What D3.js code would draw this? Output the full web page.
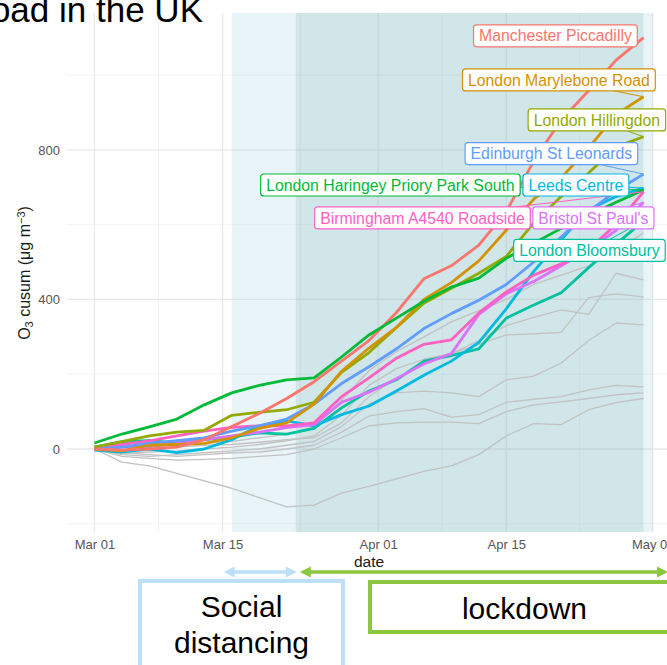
<!DOCTYPE html>
<html><head><meta charset="utf-8">
<script src="https://cdn.jsdelivr.net/npm/d3@7"></script>
<style>
html,body{margin:0;padding:0;background:#fff;overflow:hidden}
svg{display:block;font-family:"Liberation Sans",Arial,Helvetica,sans-serif}
</style>
</head><body>
<svg id="chart" width="667" height="665"></svg>
<script>
// ---------- data ----------
const dayOffsets = [0,3,6,9,12,15,18,21,24,27,30,33,36,39,42,45,48,51,54,57,60]; // days after 2020-03-01
const xTickLabels = ["Mar 01","Mar 15","Apr 01","Apr 15","May 01"];
const yTickValues = [0,400,800];

const siteNames = ["London Bloomsbury","Leeds Centre","Bristol St Paul's","Birmingham A4540 Roadside",
  "Edinburgh St Leonards","London Hillingdon","London Marylebone Road","Manchester Piccadilly",
  "London Haringey Priory Park South"];

const bloomsbury = [5,20,22,16,25,32,43,40,55,110,155,185,235,250,268,350,385,418,485,548,610];
const leeds      = [-3,-8,0,-10,0,25,62,75,62,92,115,155,197,235,285,375,475,560,640,675,698];
const bristol    = [0,5,8,15,25,35,45,57,65,125,152,188,228,255,360,415,448,490,532,585,660];
const birmingham = [0,12,22,35,48,58,62,62,70,140,190,243,280,292,364,420,465,495,535,600,688];
const edinburgh  = [0,5,15,22,30,48,62,80,120,175,220,268,322,362,398,440,500,567,635,690,735];
const hillingdon = [5,20,35,45,50,90,98,105,125,205,258,325,390,430,470,515,605,675,738,808,835];
const marylebone = [0,-5,10,12,15,30,55,70,120,208,270,325,400,445,503,585,668,725,805,895,942];
const manchester = [0,-3,0,5,25,60,95,135,180,235,290,365,455,490,545,635,770,880,958,1040,1100];
const haringey   = [16,40,59,80,118,150,170,185,190,246,305,350,395,433,457,510,550,590,625,660,693];

// other (unlabelled) sites
const other1 = [0,-5,5,10,15,20,30,40,60,130,210,260,300,340,370,400,440,465,490,530,578];
const other2 = [0,-12,-8,-5,0,5,12,22,35,90,170,215,240,255,290,330,352,372,360,470,452];
const other3 = [0,-8,0,5,10,12,18,25,30,70,140,190,225,255,280,305,308,312,405,415,407];
const other4 = [0,-15,-20,-15,-10,-5,0,10,20,60,120,150,155,150,140,185,195,230,290,337,332];
const other5 = [0,-10,-15,-20,-15,-10,-8,0,10,45,88,100,108,85,92,125,133,140,158,170,166];
const other6 = [0,-20,-25,-30,-28,-25,-20,-15,0,30,62,70,72,72,68,100,118,126,135,145,150];
const other7 = [0,-35,-45,-65,-85,-105,-130,-155,-150,-118,-100,-80,-60,-45,-15,35,68,65,105,124,135];

// label anchor points (label centre, in data units: day offset, value)
const labelDay   = [54.09,52.61,54.52,35.84,49.93,54.9,50.75,50.37,32.34];
const labelValue = [531,706,618,618,790,880,987,1105,706];

// ---------- styles ----------
const siteColours = ["#00C19F","#00B9E3","#DB72FB","#FF61C3","#619CFF","#93AA00","#D39200","#F8766D","#00BA38"];

// ---------- build ----------
const labelled = [bloomsbury,leeds,bristol,birmingham,edinburgh,hillingdon,marylebone,manchester,haringey];
const others = [other1,other2,other3,other4,other5,other6,other7];
const start = new Date(Date.UTC(2020,2,1));
const dateOf = d => d3.utcDay.offset(start, d);
const dayFrac = d => new Date(start.getTime() + d*86400000);

const svg = d3.select("#chart");
const x = d3.scaleUtc().domain([dayFrac(-3), dayFrac(63)]).range([67,671]);
const y = d3.scaleLinear().domain([-222,1166]).range([532,13]);
const pTop = 13, pBottom = 532, pLeft = 67, pRight = 671;

svg.append("rect").attr("width",667).attr("height",665).attr("fill","#fff");

// grid
const g = svg.append("g");
const majorX = [0,14,31,45,61].map(dateOf);
const minorX = [7,22.5,38,53].map(dayFrac);
const majorY = yTickValues;
const minorY = [-200,200,600,1000];
g.selectAll(".mnx").data(minorX).join("line").attr("x1",d=>x(d)).attr("x2",d=>x(d))
  .attr("y1",pTop).attr("y2",pBottom).attr("stroke","#eeeeee").attr("stroke-width",0.7);
g.selectAll(".mny").data(minorY).join("line").attr("y1",d=>y(d)).attr("y2",d=>y(d))
  .attr("x1",pLeft).attr("x2",pRight).attr("stroke","#eeeeee").attr("stroke-width",0.7);
g.selectAll(".mjx").data(majorX).join("line").attr("x1",d=>x(d)).attr("x2",d=>x(d))
  .attr("y1",pTop).attr("y2",pBottom).attr("stroke","#e8e8e8").attr("stroke-width",1.3);
g.selectAll(".mjy").data(majorY).join("line").attr("y1",d=>y(d)).attr("y2",d=>y(d))
  .attr("x1",pLeft).attr("x2",pRight).attr("stroke","#e8e8e8").attr("stroke-width",1.3);

// shaded periods
svg.append("rect").attr("x",x(dateOf(15))).attr("y",pTop)
  .attr("width",x(dateOf(61))-x(dateOf(15))).attr("height",pBottom-pTop)
  .attr("fill","#add8e6").attr("fill-opacity",0.27);
svg.append("rect").attr("x",x(dateOf(22))).attr("y",pTop)
  .attr("width",x(dateOf(60))-x(dateOf(22))).attr("height",pBottom-pTop)
  .attr("fill","#5f9ea0").attr("fill-opacity",0.17);

// lines
const line = d3.line().x((v,i)=>x(dateOf(dayOffsets[i]))).y(v=>y(v));
svg.append("g").selectAll("path").data(others).join("path")
  .attr("d",line).attr("fill","none").attr("stroke","#c2c2c2").attr("stroke-width",1.3)
  .attr("stroke-linejoin","round");
svg.append("g").selectAll("path").data(labelled).join("path")
  .attr("d",line).attr("fill","none").attr("stroke",(d,i)=>siteColours[i]).attr("stroke-width",2.8)
  .attr("stroke-linejoin","round");

// labels
const fs = 15.8, padX = 5.5, boxH = 22;
const segG = svg.append("g");
const labG = svg.append("g");
labelled.forEach((vals,i)=>{
  const cx = x(dayFrac(labelDay[i])), cy = y(labelValue[i]);
  const lg = labG.append("g");
  const box = lg.append("rect");
  const t = lg.append("text").attr("x",cx).attr("y",cy+fs*0.36).attr("text-anchor","middle")
    .attr("font-size",fs).attr("fill",siteColours[i]).text(siteNames[i]);
  const w = t.node().getComputedTextLength() + 2*padX;
  box.attr("x",cx-w/2).attr("y",cy-boxH/2).attr("width",w).attr("height",boxH).attr("rx",3)
    .attr("fill","#fff").attr("stroke",siteColours[i]).attr("stroke-width",1.2);
  const px = x(dateOf(dayOffsets[dayOffsets.length-1])), py = y(vals[vals.length-1]);
  const dx = px-cx, dy = py-cy;
  const tx = dx===0?Infinity:(w/2)/Math.abs(dx), ty = dy===0?Infinity:(boxH/2)/Math.abs(dy);
  const tt = Math.min(tx,ty);
  if (tt < 1) {
    const ex = cx+dx*tt, ey = cy+dy*tt;
    if (Math.hypot(px-ex,py-ey) > 7) {
      segG.append("line").attr("x1",ex).attr("y1",ey).attr("x2",px).attr("y2",py)
        .attr("stroke",siteColours[i]).attr("stroke-width",1);
    }
  }
});

// axes
const ya = svg.append("g").attr("transform",`translate(${pLeft},0)`)
  .call(d3.axisLeft(y).tickValues(yTickValues).tickSize(0).tickPadding(7));
ya.select(".domain").remove();
ya.selectAll("text").attr("font-size",13).attr("fill","#555").attr("font-family","Liberation Sans, Arial, sans-serif");

const xa = svg.append("g").attr("transform",`translate(0,${pBottom})`)
  .call(d3.axisBottom(x).tickValues(majorX).tickFormat((d,i)=>xTickLabels[i]).tickSize(0).tickPadding(8));
xa.select(".domain").remove();
xa.selectAll("text").attr("font-size",13).attr("fill","#555").attr("font-family","Liberation Sans, Arial, sans-serif");

// axis titles
svg.append("text").attr("x",(pLeft+pRight)/2).attr("y",567).attr("text-anchor","middle")
  .attr("font-size",15.5).attr("fill","#1a1a1a").text("date");
const yt = svg.append("text").attr("transform","translate(30,273) rotate(-90)")
  .attr("text-anchor","middle").attr("font-size",16).attr("fill","#1a1a1a");
yt.append("tspan").text("O");
yt.append("tspan").attr("font-size",11).attr("baseline-shift","-25%").text("3");
yt.append("tspan").text(" cusum (μg m");
yt.append("tspan").attr("font-size",11).attr("baseline-shift","45%").text("−3");
yt.append("tspan").text(")");

// title fragment
svg.append("text").attr("x",203).attr("y",22).attr("text-anchor","end")
  .attr("font-size",35).attr("fill","#000").text("oad in the UK");

// period arrows
function arrow(x1,x2,yy,col){
  const hl=11, hw=5.5;
  svg.append("line").attr("x1",x1+hl-1).attr("x2",x2-hl+1).attr("y1",yy).attr("y2",yy)
    .attr("stroke",col).attr("stroke-width",3.5);
  svg.append("path").attr("d",`M${x1},${yy}L${x1+hl},${yy-hw}L${x1+hl},${yy+hw}Z`).attr("fill",col);
  svg.append("path").attr("d",`M${x2},${yy}L${x2-hl},${yy-hw}L${x2-hl},${yy+hw}Z`).attr("fill",col);
}
arrow(x(dateOf(14))+1, x(dateOf(22))+1, 572, "#bddff8");
arrow(x(dateOf(22))+4, 668, 572, "#8cc63f");

// period boxes
svg.append("rect").attr("x",140).attr("y",581).attr("width",203).attr("height",110)
  .attr("fill","#fff").attr("stroke","#bddff8").attr("stroke-width",4);
svg.append("text").attr("x",241.5).attr("y",617).attr("text-anchor","middle").attr("font-size",30).attr("fill","#000").text("Social");
svg.append("text").attr("x",241.5).attr("y",653).attr("text-anchor","middle").attr("font-size",30).attr("fill","#000").text("distancing");
svg.append("rect").attr("x",370).attr("y",582).attr("width",310).attr("height",50)
  .attr("fill","#fff").attr("stroke","#8cc63f").attr("stroke-width",4);
svg.append("text").attr("x",524.5).attr("y",619).attr("text-anchor","middle").attr("font-size",30).attr("fill","#000").text("lockdown");
</script>
</body></html>
